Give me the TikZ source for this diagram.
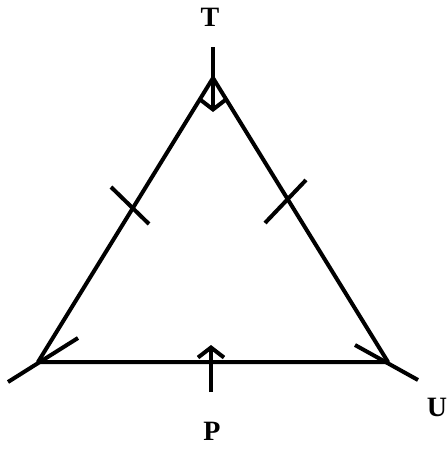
\documentclass[tikz,border=0pt]{standalone}
\usepackage{fontspec}
\setmainfont{Liberation Serif}
\usetikzlibrary{arrows.meta}

\begin{document}
\begin{tikzpicture}[
      x=0.5pt, y=-0.5pt,
      line width=2pt,
      lbl/.style={font=\fontsize{14}{16}\selectfont\bfseries, inner sep=0pt},
      barb/.style={-{Straight Barb[length=5pt,width=13pt,line width=2pt]}},
      line join=round
    ]
    \useasboundingbox (0,0) rectangle (448,455);
    % corners of the triangle
    \coordinate (apex) at (213,78);
    \coordinate (lft) at (38,362);
    \coordinate (rgt) at (388,362);
    \draw (apex) -- (lft) -- (rgt) -- cycle;
    % labels
    \node[lbl] (T) at (210,17) {T};
    \node[lbl] (P) at (212,431) {P};
    \node[lbl] (U) at (437,407) {U};
    % arrow through the apex
    \coordinate (ttop) at (213,47);
    \coordinate (ttip) at (213,112);
    \draw[barb] (ttop) -- (ttip);
    % arrow onto the base
    \coordinate (pbot) at (211,392);
    \coordinate (ptip) at (211,345);
    \draw[barb] (pbot) -- (ptip);
    % lines through the base corners
    \coordinate (l1) at (8,382);
    \coordinate (l2) at (78,338);
    \draw (l1) -- (l2);
    \coordinate (r1) at (355,345);
    \coordinate (r2) at (418,380);
    \draw (r1) -- (r2);
    % tick marks on the equal sides
    \coordinate (tl1) at (111,187);
    \coordinate (tl2) at (149,224);
    \draw (tl1) -- (tl2);
    \coordinate (tr1) at (265,223);
    \coordinate (tr2) at (306,180);
    \draw (tr1) -- (tr2);
  \end{tikzpicture}
\end{document}
